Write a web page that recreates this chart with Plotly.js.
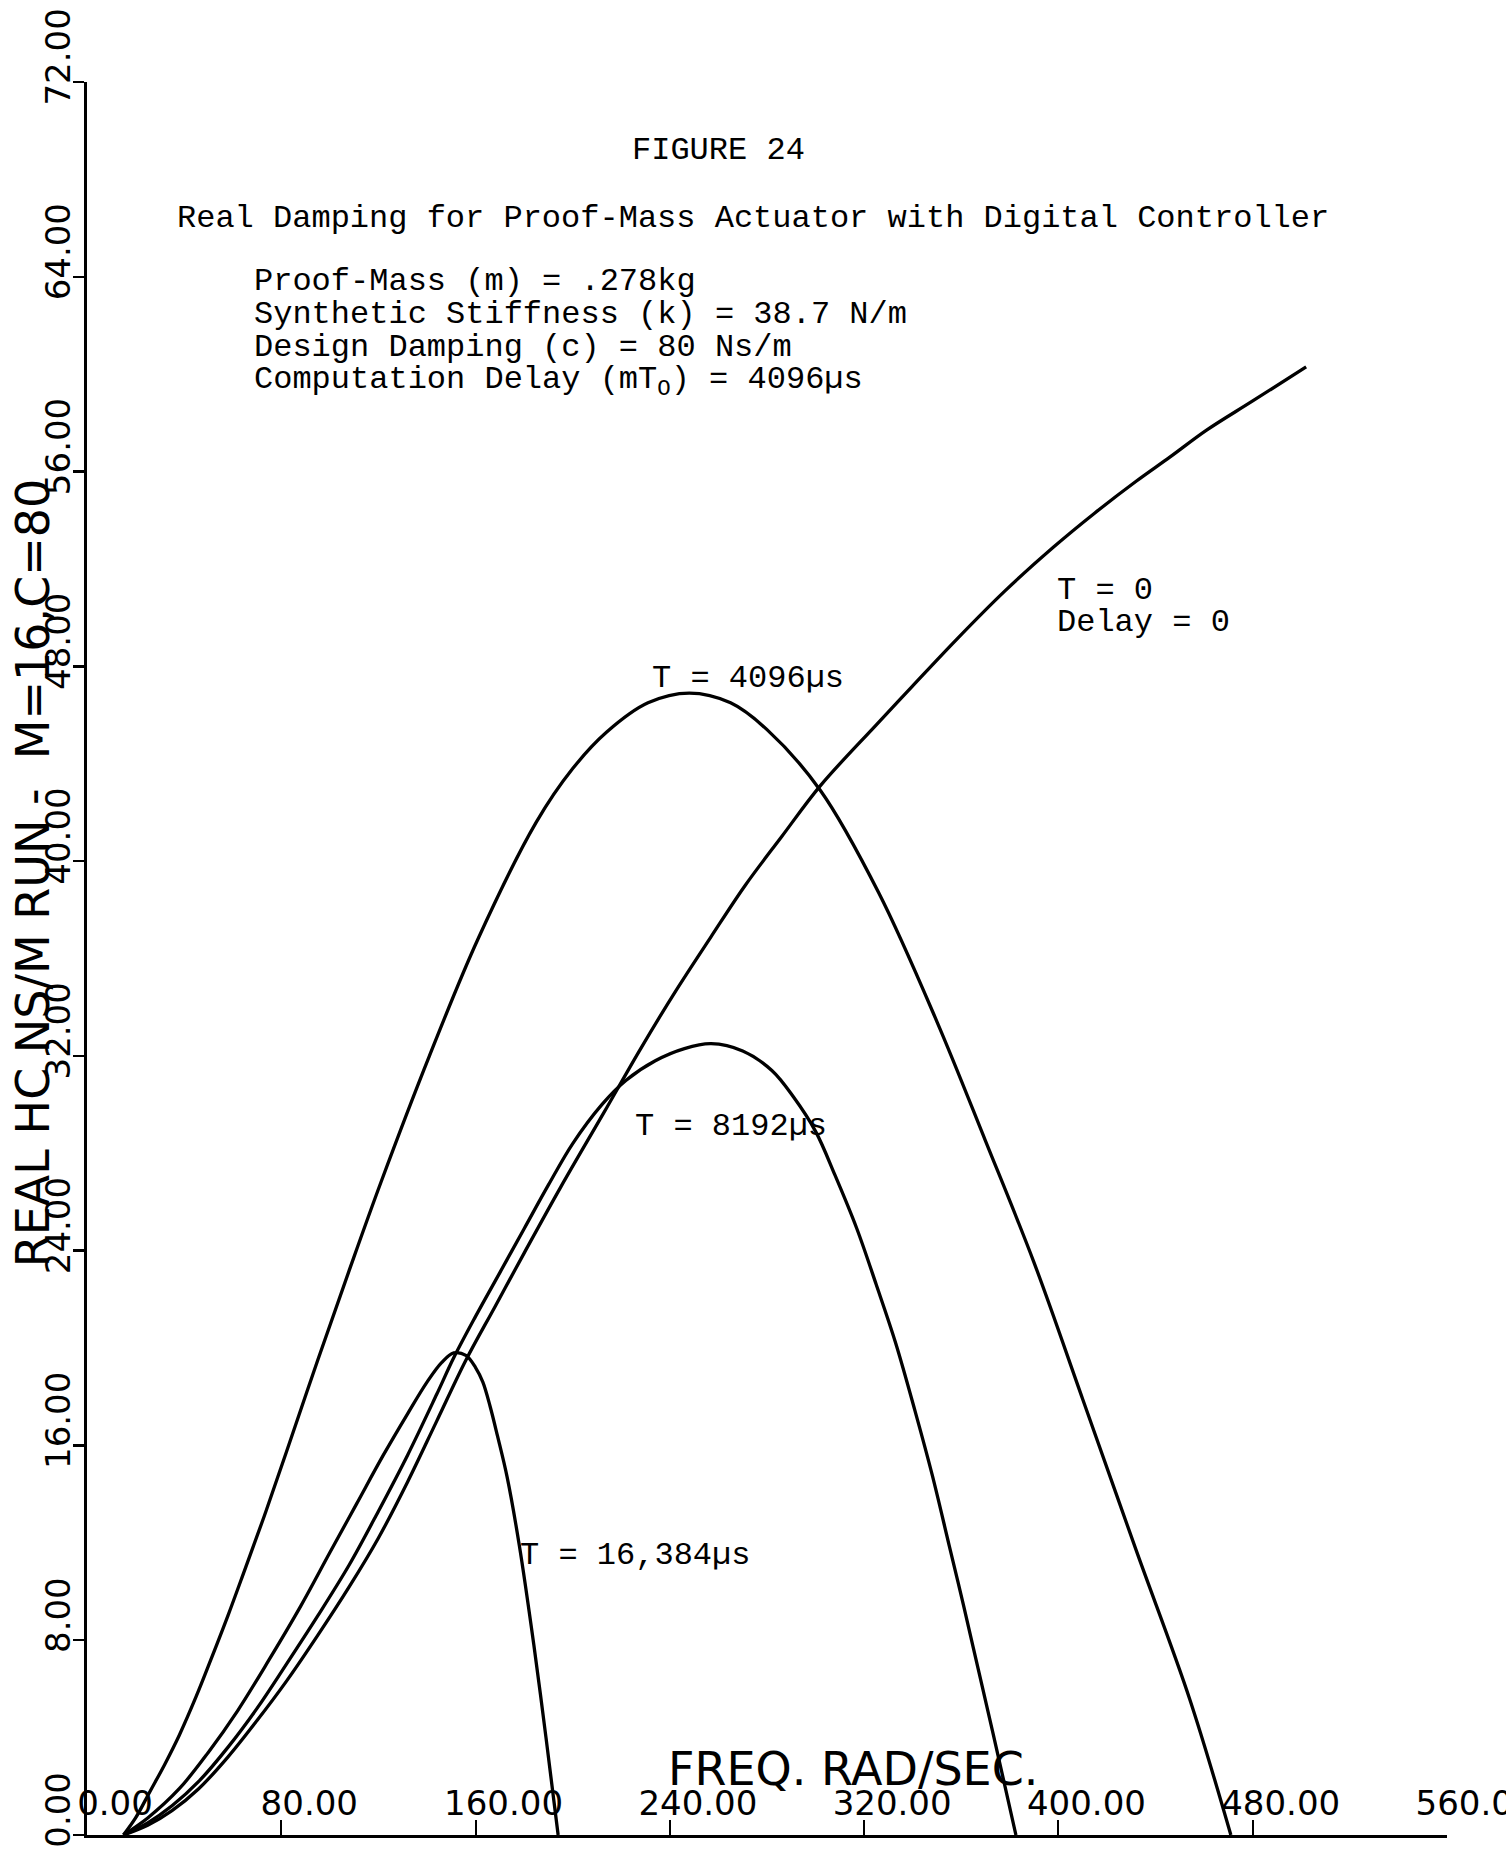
<!DOCTYPE html>
<html>
<head>
<meta charset="utf-8">
<script src="https://cdn.plot.ly/plotly-3.0.1.min.js"></script>
<style>html,body{margin:0;padding:0;background:#fff;}</style>
</head>
<body>
<div id="chart" style="width:1506px;height:1855px;"></div>
<script>
// ---- axis ticks ----
const xTickVals = [0, 80, 160, 240, 320, 400, 480, 560];
const xTickText = ["0.00", "80.00", "160.00", "240.00", "320.00", "400.00", "480.00", "560.00"];
const yTickVals = [0, 8, 16, 24, 32, 40, 48, 56, 64, 72];
const yTickText = ["0.00", "8.00", "16.00", "24.00", "32.00", "40.00", "48.00", "56.00", "64.00", "72.00"];

// ---- series: frequency (rad/s) and real damping (Ns/m) ----
// T = 0, Delay = 0
const freqNoDelay = [15, 25, 35, 46, 58, 70, 82, 95, 108, 120, 132, 144, 156, 168, 180, 195, 213, 228, 242, 257, 271, 286, 302, 325, 340, 358, 378, 398, 415, 432, 446, 461, 480, 502];
const dampNoDelay = [0, 0.4, 1.0, 1.9, 3.2, 4.7, 6.3, 8.2, 10.2, 12.2, 14.5, 17.0, 19.5, 21.7, 23.9, 26.6, 29.7, 32.3, 34.6, 36.9, 39.0, 41.0, 43.1, 45.6, 47.2, 49.1, 51.1, 52.9, 54.3, 55.6, 56.6, 57.7, 58.9, 60.3];

// T = 4096 us
const freqT4096 = [15, 20, 26, 32, 38, 45, 51, 58, 65, 73, 82, 95, 108, 121, 141, 161, 185, 200, 214, 231, 248, 265, 280, 302, 326, 350, 370, 390, 410, 432, 454, 471];
const dampT4096 = [0, 0.7, 1.8, 2.9, 4.1, 5.7, 7.2, 9.0, 10.9, 13.1, 15.7, 19.5, 23.2, 26.8, 32.0, 36.8, 41.6, 43.8, 45.3, 46.5, 46.9, 46.5, 45.4, 42.9, 38.7, 33.4, 28.5, 23.5, 17.9, 11.7, 5.6, 0];

// T = 8192 us
const freqT8192 = [15, 25, 35, 46, 58, 70, 82, 95, 108, 120, 132, 144, 151, 160, 170, 180, 190, 200, 212, 222, 234, 246, 257, 270, 282, 291, 300, 308, 317, 325, 333, 341, 348, 355, 361, 367, 373, 378, 382.5];
const dampT8192 = [0, 0.5, 1.2, 2.2, 3.6, 5.2, 7.0, 9.0, 11.1, 13.3, 15.6, 18.1, 19.6, 21.3, 23.1, 24.9, 26.7, 28.4, 30.0, 31.0, 31.8, 32.3, 32.5, 32.2, 31.4, 30.3, 28.9, 27.1, 24.9, 22.6, 20.2, 17.4, 14.8, 11.9, 9.4, 6.8, 4.2, 2.0, 0];

// T = 16,384 us
const freqT16384 = [15, 25, 38, 50, 62, 75, 88, 100, 111, 122, 132, 140, 146, 151, 156, 160, 163, 166, 169, 173, 178, 184, 189, 194];
const dampT16384 = [0, 0.7, 1.9, 3.4, 5.1, 7.2, 9.4, 11.6, 13.6, 15.6, 17.3, 18.6, 19.4, 19.8, 19.7, 19.2, 18.6, 17.6, 16.4, 14.7, 11.9, 7.8, 4.0, 0];

const seriesList = [
  {x: freqNoDelay, y: dampNoDelay},
  {x: freqT4096, y: dampT4096},
  {x: freqT8192, y: dampT8192},
  {x: freqT16384, y: dampT16384}
];

const traces = seriesList.map(s => ({
  type: 'scatter', mode: 'lines', x: s.x, y: s.y,
  line: {color: '#000', width: 3.3, shape: 'spline', smoothing: 1},
  hoverinfo: 'skip', showlegend: false
}));

const mono = {family: 'Liberation Mono, Courier New, monospace', size: 32, color: '#000'};
const sans = 'DejaVu Sans, Arial, sans-serif';

function note(text, x, y, xanchor, font) {
  return {text: text, x: x, y: y, xref: 'x', yref: 'y', xanchor: xanchor, yanchor: 'middle',
          showarrow: false, font: font || mono};
}

const annotations = [
  note('FIGURE 24', 260, 69.2, 'center'),
  note('Real Damping for Proof-Mass Actuator with Digital Controller', 36.2, 66.4, 'left'),
  note('Proof-Mass (m) = .278kg', 67.9, 63.8, 'left'),
  note('Synthetic Stiffness (k) = 38.7 N/m', 67.9, 62.45, 'left'),
  note('Design Damping (c) = 80 Ns/m', 67.9, 61.1, 'left'),
  note('Computation Delay (mT<sub>O</sub>) = 4096\u00b5s', 67.9, 59.7, 'left'),
  note('T = 0', 398.6, 51.1, 'left'),
  note('Delay = 0', 398.6, 49.8, 'left'),
  note('T = 4096\u00b5s', 232, 47.5, 'left'),
  note('T = 8192\u00b5s', 225, 29.1, 'left'),
  note('T = 16,384\u00b5s', 177.5, 11.5, 'left'),
  note('FREQ. RAD/SEC.', 315.4, 2.7, 'center', {family: sans, size: 46, color: '#000'}),
  {text: 'REAL HC NS/M RUN -\u00a0\u00a0M=16,C=80', xref: 'paper', yref: 'paper',
   x: -0.04, y: 0.549, xanchor: 'center', yanchor: 'middle', textangle: -90,
   showarrow: false, font: {family: sans, size: 46, color: '#000'}}
];

const layout = {
  width: 1506, height: 1855,
  margin: {l: 87, r: 59, t: 82, b: 20, pad: 0},
  paper_bgcolor: '#fff', plot_bgcolor: '#fff',
  showlegend: false,
  xaxis: {
    range: [0, 560], showgrid: false, zeroline: false,
    showline: true, linecolor: '#000', linewidth: 3,
    tickmode: 'array', tickvals: xTickVals, ticktext: xTickText,
    ticks: 'inside', ticklen: 15, tickwidth: 2, tickcolor: '#000',
    ticklabelposition: 'inside', ticklabelshift: 28, ticklabelstandoff: 2,
    ticklabeloverflow: 'allow',
    tickfont: {family: sans, size: 34, color: '#000'},
    automargin: false, fixedrange: true
  },
  yaxis: {
    range: [0, 72], showgrid: false, zeroline: false,
    showline: true, linecolor: '#000', linewidth: 3,
    tickmode: 'array', tickvals: yTickVals, ticktext: yTickText,
    ticks: 'outside', ticklen: 11, tickwidth: 2.5, tickcolor: '#000',
    tickangle: -90, ticklabelshift: -20, ticklabelstandoff: -11,
    ticklabeloverflow: 'allow',
    tickfont: {family: sans, size: 34, color: '#000'},
    automargin: false, fixedrange: true
  },
  annotations: annotations
};

Plotly.newPlot('chart', traces, layout, {staticPlot: true, displayModeBar: false});
</script>
</body>
</html>
